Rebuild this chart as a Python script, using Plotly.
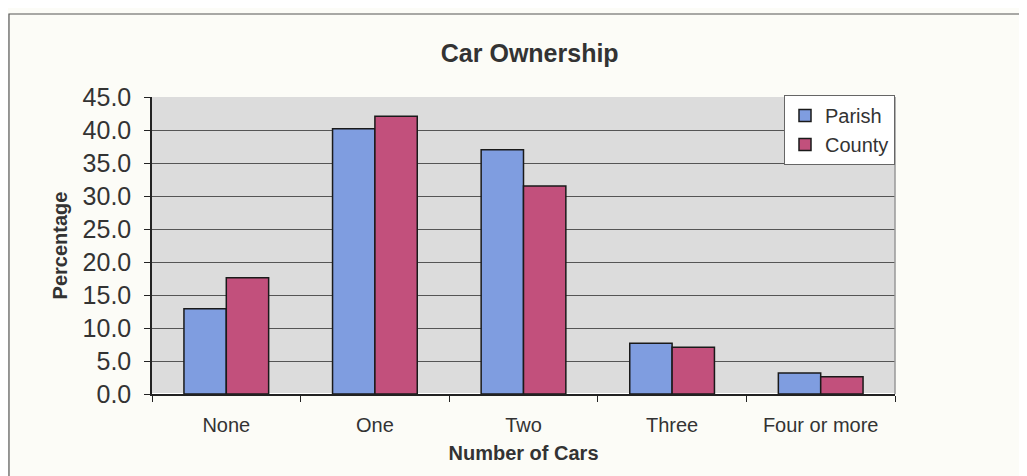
import plotly.graph_objects as go

categories = ["None", "One", "Two", "Three", "Four or more"]
parish = [12.9, 40.2, 37.0, 7.7, 3.2]
county = [17.6, 42.1, 31.5, 7.1, 2.6]
y_ticks = [0, 5, 10, 15, 20, 25, 30, 35, 40, 45]

FONT = "Liberation Sans, Arial, sans-serif"

fig = go.Figure()
fig.add_trace(go.Bar(x=categories, y=parish, name="Parish",
                     marker=dict(color="#7f9de0", line=dict(color="#1a1a1a", width=1.5))))
fig.add_trace(go.Bar(x=categories, y=county, name="County",
                     marker=dict(color="#c2507c", line=dict(color="#1a1a1a", width=1.5))))

fig.update_layout(
    width=1027, height=476,
    paper_bgcolor="#fcfcf7", plot_bgcolor="#dcdcdc",
    margin=dict(l=144, r=140, t=89, b=90),
    barmode="group", bargap=0.43, bargroupgap=0,
    font=dict(family=FONT, color="#333"),
    title=dict(text="<b>Car Ownership</b>", x=0.508, xanchor="center", y=0.905, yanchor="middle",
               font=dict(size=25, family=FONT, color="#333")),
    legend=dict(x=1.0, y=1.007, xanchor="right", yanchor="top", bgcolor="#ffffff",
                bordercolor="#666", borderwidth=1, font=dict(size=20, family=FONT, color="#333"),
                itemwidth=30, tracegroupgap=0),
    xaxis=dict(showline=True, linecolor="#222", linewidth=1.5, ticks="outside",
               tickson="boundaries", ticklen=6, tickcolor="#222", ticklabelstandoff=12,
               tickfont=dict(size=20, family=FONT, color="#333"),
               title=dict(text="<b>Number of Cars</b>", font=dict(size=20, family=FONT, color="#333"), standoff=11)),
    yaxis=dict(range=[0, 45], tickvals=y_ticks, ticktext=[f"{v:.1f}" for v in y_ticks],
               showline=True, linecolor="#222", linewidth=1.5, ticks="outside", ticklen=6,
               tickcolor="#222", gridcolor="#555", gridwidth=1.2, ticklabelstandoff=8,
               tickfont=dict(size=25, family=FONT, color="#333"),
               title=dict(text="<b>Percentage</b>", font=dict(size=20, family=FONT, color="#333"), standoff=10)),
)

fig.add_shape(type="line", xref="paper", yref="paper", x0=1, x1=1, y0=0, y1=1,
              line=dict(color="#999", width=1.5))
fig.add_shape(type="rect", xref="paper", yref="paper", x0=-0.1925, x1=1.3, y0=-0.4, y1=1.2795,
              line=dict(color="#555", width=1.2), fillcolor="rgba(0,0,0,0)", layer="below")

fig.write_html("out.html")
